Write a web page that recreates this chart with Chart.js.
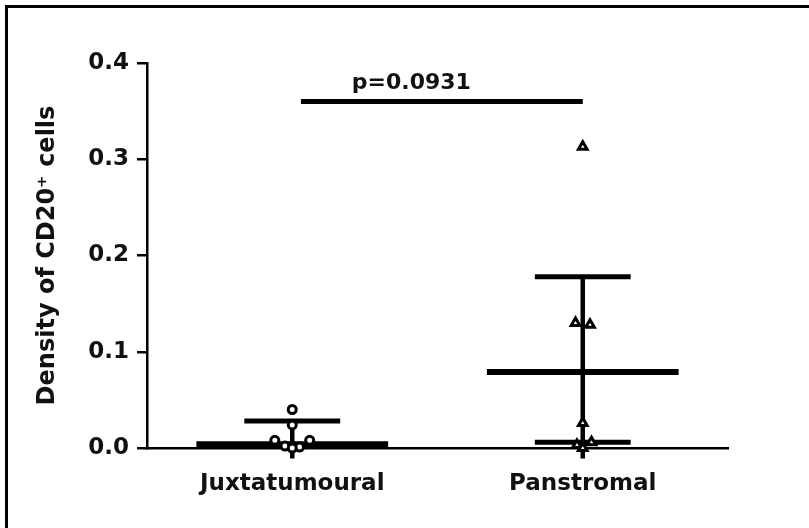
<!DOCTYPE html>
<html>
<head>
<meta charset="utf-8">
<script src="https://cdn.jsdelivr.net/npm/chart.js@4.4.1/dist/chart.umd.min.js"></script>
<style>
    html, body { margin: 0; padding: 0; background: #fff; overflow: hidden; }
    #wrap { position: relative; width: 809px; height: 528px; }
    #frame { position: absolute; left: 5px; top: 5px; width: 820px; height: 540px;
             border-left: 3px solid #000; border-top: 3px solid #000; pointer-events: none; }
</style>
</head>
<body>
<div id="wrap">
    <canvas id="densityChart" width="809" height="528"></canvas>
    <div id="frame"></div>
</div>
<script>
// groups on the x axis
const groups = ['Juxtatumoural', 'Panstromal'];

// individual points
const juxtaValues = [0.040, 0.024, 0.008, 0.008, 0.002, 0.001, 0.000];
const panValues = [0.313, 0.130, 0.128, 0.026, 0.006, 0.003, 0.000];

// horizontal scatter spread of each point (x units)
const juxtaJitter = [0, 0, -0.06, 0.06, -0.025, 0.025, 0];
const panJitter = [0, -0.025, 0.025, 0, 0.03, -0.02, 0];

// summary lines
const means = [0.004, 0.079];
const sdUpper = [0.028, 0.178];
const sdLowerCap = [null, 0.006];
const whiskerBottom = [-0.011, -0.011];

// significance bracket
const pText = 'p=0.0931';
const pLevel = 0.36;
const pFrom = 0.53;
const pTo = 1.5;

const yTicks = [0, 0.1, 0.2, 0.3, 0.4];

const FONT = "'DejaVu Sans', 'Liberation Sans', Arial, sans-serif";
const centre = i => i + 0.5;
const MEAN_HALF = 0.33;
const CAP_HALF = 0.165;

const line = (pts, width) => ({
    type: 'line',
    data: pts,
    showLine: true,
    borderColor: '#000',
    borderWidth: width,
    borderCapStyle: 'butt',
    pointRadius: 0,
    fill: false,
    clip: 14,
    order: 2
});

const datasets = [];
datasets.push({
    label: groups[0],
    data: juxtaValues.map((v, i) => ({ x: centre(0) + juxtaJitter[i], y: v })),
    pointStyle: 'circle',
    pointRadius: 4,
    pointBorderWidth: 3,
    pointBackgroundColor: '#fff',
    pointBorderColor: '#000',
    clip: 14,
    order: 1
});
datasets.push({
    label: groups[1],
    data: panValues.map((v, i) => ({ x: centre(1) + panJitter[i], y: v })),
    pointStyle: 'triangle',
    pointRadius: 5,
    pointBorderWidth: 3,
    pointBackgroundColor: '#fff',
    pointBorderColor: '#000',
    clip: 14,
    order: 1
});
groups.forEach((g, i) => {
    const c = centre(i);
    datasets.push(line([{ x: c - MEAN_HALF, y: means[i] }, { x: c + MEAN_HALF, y: means[i] }], 6));
    datasets.push(line([{ x: c - CAP_HALF, y: sdUpper[i] }, { x: c + CAP_HALF, y: sdUpper[i] }], 5));
    if (sdLowerCap[i] !== null) {
        datasets.push(line([{ x: c - CAP_HALF, y: sdLowerCap[i] }, { x: c + CAP_HALF, y: sdLowerCap[i] }], 5));
    }
    datasets.push(line([{ x: c, y: sdUpper[i] }, { x: c, y: whiskerBottom[i] }], 4.5));
});
datasets.push(line([{ x: pFrom, y: pLevel }, { x: pTo, y: pLevel }], 5));

const pLabel = {
    id: 'pLabel',
    afterDatasetsDraw(chart) {
        const { ctx, scales } = chart;
        ctx.save();
        ctx.font = 'bold 22px ' + FONT;
        ctx.fillStyle = '#111';
        ctx.textAlign = 'center';
        ctx.textBaseline = 'alphabetic';
        ctx.fillText(pText, scales.x.getPixelForValue(0.91), scales.y.getPixelForValue(pLevel) - 13);
        ctx.restore();
    }
};

new Chart(document.getElementById('densityChart'), {
    type: 'scatter',
    data: { datasets },
    options: {
        responsive: false,
        animation: false,
        devicePixelRatio: 1,
        layout: { padding: { left: 0, right: 81, top: 63, bottom: 0 } },
        plugins: {
            legend: { display: false },
            tooltip: { enabled: false }
        },
        scales: {
            x: {
                type: 'linear',
                min: 0,
                max: 2,
                afterBuildTicks: s => { s.ticks = groups.map((g, i) => ({ value: centre(i) })); },
                afterFit: s => { s.height = 80; },
                grid: { display: false },
                border: { display: true, color: '#000', width: 2.5 },
                ticks: {
                    padding: 14,
                    color: '#111',
                    font: { family: FONT, size: 23, weight: 'bold' },
                    callback: (v, i) => groups[i]
                }
            },
            y: {
                min: 0,
                max: 0.4,
                afterBuildTicks: s => { s.ticks = yTicks.map(v => ({ value: v })); },
                afterFit: s => { s.width = 147; },
                grid: { drawOnChartArea: false, drawTicks: true, tickLength: 10, color: '#000', lineWidth: 2.5 },
                border: { display: true, color: '#000', width: 2.5 },
                ticks: {
                    padding: 8,
                    color: '#111',
                    font: { family: FONT, size: 23, weight: 'bold' },
                    callback: v => v.toFixed(1)
                },
                title: {
                    display: true,
                    text: 'Density of CD20⁺ cells',
                    color: '#111',
                    font: { family: FONT, size: 24, weight: 'bold' },
                    padding: { top: 33, bottom: 0 }
                }
            }
        }
    },
    plugins: [pLabel]
});
</script>
</body>
</html>
